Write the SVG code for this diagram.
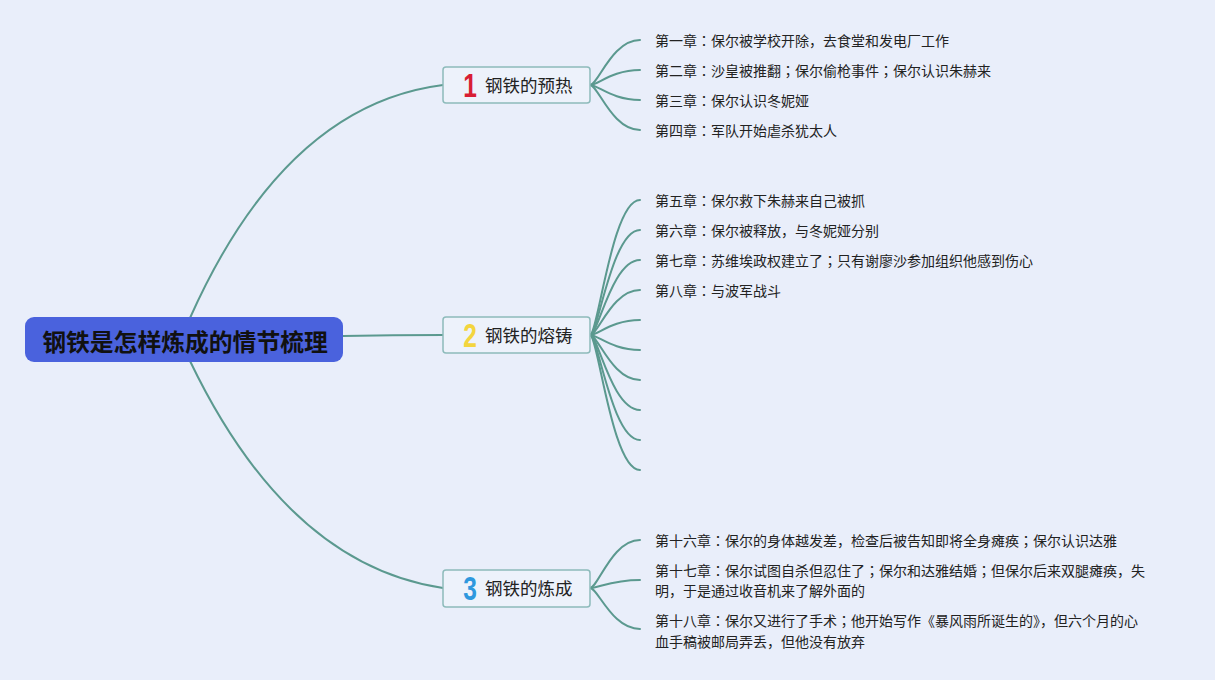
<svg xmlns="http://www.w3.org/2000/svg" width="1215" height="680" viewBox="0 0 1215 680">
<style>
.bg{fill:#e9eefa}
.conn path{fill:none;stroke:#5b998f;stroke-width:2;stroke-linecap:round}
.root rect{fill:#4a62dd}
.root text{font-family:"Noto Sans CJK SC","Liberation Sans",sans-serif;font-size:23.8px;font-weight:bold;fill:#111;text-anchor:middle}
.branch rect{fill:#edf2fb;stroke:#8dbbbb;stroke-width:1.5}
.branch .lbl{font-family:"Noto Sans CJK SC","Liberation Sans",sans-serif;font-size:17.5px;fill:#222}
.num{font-family:"Liberation Sans",Arial,sans-serif;font-size:34px;font-weight:bold;text-anchor:middle}
.leaf text{font-family:"Noto Sans CJK SC","Liberation Sans",sans-serif;font-size:14px;fill:#222}
.p{font-family:"Noto Sans CJK TC","Noto Sans CJK SC",sans-serif}
</style>
<rect class="bg" x="0" y="0" width="1215" height="680"/>
<g id="connectors" class="conn">
  <path d="M190 318 Q285 105 443 85"/>
  <path d="M343 336 Q393 335 443 335"/>
  <path d="M190 361 Q288 565 443 588"/>
  <path d="M590 85 C598 85 612 40 640 40"/>
  <path d="M590 85 C598 85 612 70 640 70"/>
  <path d="M590 85 C598 85 612 100 640 100"/>
  <path d="M590 85 C598 85 612 130 640 130"/>
  <path d="M590 335 C598 335 612 200 640 200"/>
  <path d="M590 335 C598 335 612 230 640 230"/>
  <path d="M590 335 C598 335 612 260 640 260"/>
  <path d="M590 335 C598 335 612 290 640 290"/>
  <path d="M590 335 C598 335 612 320 640 320"/>
  <path d="M590 335 C598 335 612 350 640 350"/>
  <path d="M590 335 C598 335 612 380 640 380"/>
  <path d="M590 335 C598 335 612 410 640 410"/>
  <path d="M590 335 C598 335 612 440 640 440"/>
  <path d="M590 335 C598 335 612 470 640 470"/>
  <path d="M590 588 C598 588 612 540 640 540"/>
  <path d="M590 588 C598 588 612 580 640 580"/>
  <path d="M590 588 C598 588 612 629 640 629"/>
</g>
<g id="root" class="root">
  <rect x="25" y="317" width="318" height="45" rx="9"/>
  <text x="185" y="351">钢铁是怎样炼成的情节梳理</text>
</g>
<g id="branch1" class="branch">
  <rect x="443" y="67" width="147" height="36" rx="3"/>
  <text class="num" transform="translate(470 97) scale(0.72 1)" fill="#d81e34">1</text>
  <text class="lbl" x="485" y="92">钢铁的预热</text>
</g>
<g id="branch2" class="branch">
  <rect x="443" y="317" width="147" height="36" rx="3"/>
  <text class="num" transform="translate(470 347) scale(0.72 1)" fill="#f3d53e">2</text>
  <text class="lbl" x="485" y="342">钢铁的熔铸</text>
</g>
<g id="branch3" class="branch">
  <rect x="443" y="570" width="147" height="37" rx="3"/>
  <text class="num" transform="translate(470 600) scale(0.72 1)" fill="#2f98de">3</text>
  <text class="lbl" x="485" y="595">钢铁的炼成</text>
</g>
<g id="leaf1" class="leaf"><text x="655" y="46">第一章<tspan class="p">：</tspan>保尔被学校开除，去食堂和发电厂工作</text></g>
<g id="leaf2" class="leaf"><text x="655" y="76">第二章<tspan class="p">：</tspan>沙皇被推翻<tspan class="p">；</tspan>保尔偷枪事件<tspan class="p">；</tspan>保尔认识朱赫来</text></g>
<g id="leaf3" class="leaf"><text x="655" y="106">第三章<tspan class="p">：</tspan>保尔认识冬妮娅</text></g>
<g id="leaf4" class="leaf"><text x="655" y="136">第四章<tspan class="p">：</tspan>军队开始虐杀犹太人</text></g>
<g id="leaf5" class="leaf"><text x="655" y="206">第五章<tspan class="p">：</tspan>保尔救下朱赫来自己被抓</text></g>
<g id="leaf6" class="leaf"><text x="655" y="236">第六章<tspan class="p">：</tspan>保尔被释放，与冬妮娅分别</text></g>
<g id="leaf7" class="leaf"><text x="655" y="266">第七章<tspan class="p">：</tspan>苏维埃政权建立了<tspan class="p">；</tspan>只有谢廖沙参加组织他感到伤心</text></g>
<g id="leaf8" class="leaf"><text x="655" y="296">第八章<tspan class="p">：</tspan>与波军战斗</text></g>
<g id="leaf16" class="leaf"><text x="655" y="546">第十六章<tspan class="p">：</tspan>保尔的身体越发差，检查后被告知即将全身瘫痪<tspan class="p">；</tspan>保尔认识达雅</text></g>
<g id="leaf17" class="leaf"><text x="655" y="576">第十七章<tspan class="p">：</tspan>保尔试图自杀但忍住了<tspan class="p">；</tspan>保尔和达雅结婚<tspan class="p">；</tspan>但保尔后来双腿瘫痪，失</text><text x="655" y="596">明，于是通过收音机来了解外面的</text></g>
<g id="leaf18" class="leaf"><text x="655" y="626">第十八章<tspan class="p">：</tspan>保尔又进行了手术<tspan class="p">；</tspan>他开始写作《暴风雨所诞生的》，但六个月的心</text><text x="655" y="647">血手稿被邮局弄丢，但他没有放弃</text></g>
</svg>
